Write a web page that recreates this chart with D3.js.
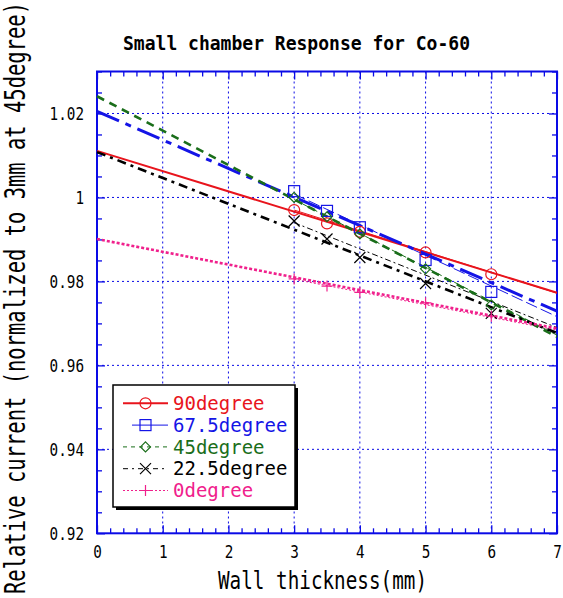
<!DOCTYPE html>
<html><head><meta charset="utf-8">
<script src="https://cdn.jsdelivr.net/npm/d3@7"></script>
<style>html,body{margin:0;padding:0;background:#fff;}</style>
</head><body>
<svg id="c" width="563" height="598"></svg>
<script>
// ---- data ----
const thickness = [3, 3.5, 4, 5, 6];
const seriesNames = ["90degree", "67.5degree", "45degree", "22.5degree", "0degree"];
const v90  = [0.9970, 0.9938, 0.9918, 0.9869, 0.9817];
const v675 = [1.0015, 0.9968, 0.9929, 0.9851, 0.9775];
const v45  = [1.0000, 0.9954, 0.9913, 0.9830, 0.9744];
const v225 = [0.9944, 0.9901, 0.9857, 0.9795, 0.9724];
const v0   = [0.9806, 0.9789, 0.9774, 0.9749, 0.9717];
// fitted lines (value read at both ends)
const fitX = [0, 7];
const fitStart = [1.0111, 1.0205, 1.0241, 1.0108, 0.9901];
const fitEnd   = [0.9773, 0.9729, 0.9668, 0.9677, 0.9688];
const thinX = [3, 7];
const thinStart = [0.9970, 1.0008, 0.9995, 0.9940, 0.9805];
const thinEnd   = [0.9772, 0.9716, 0.9672, 0.9690, 0.9684];
const xTicks = [0, 1, 2, 3, 4, 5, 6, 7];
const yTicks = [0.92, 0.94, 0.96, 0.98, 1.00, 1.02];
const yTickLabels = ["0.92", "0.94", "0.96", "0.98", "1", "1.02"];
const titleText = "Small chamber Response for Co-60";
const xLabel = "Wall thickness(mm)";
const yLabel = "Relative current (normalized to 3mm at 45degree)";

// ---- styles ----
const colors = ["#e8141c", "#1414e6", "#1a6e1a", "#000000", "#f0208c"];
const thickDash = [null, "24,7,6,7", "8,6", "9,5,3,5", "3,2"];
const thickW = [2, 3, 2.6, 2.6, 2.6];
const thinDash = [null, "12,4", "6,4", "6,3,2,3", "2,2"];
const legendDash = [null, null, "4,4", "5,4,2,4", "2,2"];
const legendW = [2, 1, 1, 1, 1];
const markers = ["circle", "square", "diamond", "x", "plus"];
const allValues = [v90, v675, v45, v225, v0];
const MONO = "'DejaVu Sans Mono', monospace";
const AX = "#0a0ae6";

const svg = d3.select("#c");
const x = d3.scaleLinear().domain([0, 7]).range([97, 557]);
const y = d3.scaleLinear().domain([0.92, 1.03]).range([533.3, 71.5]);
const [L, R] = x.range();
const [B, T] = y.range();

function stretched(parent, o) {
  const t = parent.append("text")
    .attr("transform", `translate(${o.x},${o.y}) rotate(${o.rot || 0}) scale(1,${o.sy || 1})`)
    .attr("text-anchor", o.anchor || "start")
    .attr("font-family", MONO)
    .attr("font-size", o.size)
    .attr("font-weight", o.weight || "normal")
    .attr("fill", o.fill || "#000")
    .text(o.text);
  if (o.len) t.attr("textLength", o.len).attr("lengthAdjust", "spacingAndGlyphs");
  return t;
}

// grid
const grid = svg.append("g").attr("stroke", AX).attr("stroke-width", 1).attr("stroke-dasharray", "2,3");
grid.selectAll(".gx").data(xTicks.slice(1, -1)).join("line")
  .attr("x1", d => x(d)).attr("x2", d => x(d)).attr("y1", T).attr("y2", B);
grid.selectAll(".gy").data(yTicks.slice(1)).join("line")
  .attr("x1", L).attr("x2", R).attr("y1", d => y(d)).attr("y2", d => y(d));

// axes (ticks inside on all four sides)
const xMinor = d3.range(0, 7.001, 0.2).filter(v => Math.abs(v - Math.round(v)) > 1e-6);
const yMinor = d3.range(0.92, 1.0301, 0.005).filter(v => Math.abs(v * 50 - Math.round(v * 50)) > 1e-6);
function styleAxis(g) { g.select(".domain").remove(); g.selectAll("line").attr("stroke", AX).attr("stroke-width", 1.3); }
svg.append("g").attr("transform", `translate(0,${B})`).call(d3.axisBottom(x).tickValues(xMinor).tickSize(-5).tickFormat("")).call(styleAxis);
svg.append("g").attr("transform", `translate(0,${T})`).call(d3.axisTop(x).tickValues(xMinor).tickSize(-5).tickFormat("")).call(styleAxis);
svg.append("g").attr("transform", `translate(${L},0)`).call(d3.axisLeft(y).tickValues(yMinor).tickSize(-5).tickFormat("")).call(styleAxis);
svg.append("g").attr("transform", `translate(${R},0)`).call(d3.axisRight(y).tickValues(yMinor).tickSize(-5).tickFormat("")).call(styleAxis);
svg.append("g").attr("transform", `translate(0,${T})`).call(d3.axisTop(x).tickValues(xTicks).tickSize(-8).tickFormat("")).call(styleAxis);
svg.append("g").attr("transform", `translate(${R},0)`).call(d3.axisRight(y).tickValues(yTicks).tickSize(-8).tickFormat("")).call(styleAxis);

const syTick = 1.2;
const xAxisG = svg.append("g").attr("transform", `translate(0,${B})`)
  .call(d3.axisBottom(x).tickValues(xTicks).tickSize(-8).tickFormat(d3.format("d"))).call(styleAxis);
xAxisG.attr("font-family", MONO).attr("font-size", 14.3);
xAxisG.selectAll("text").attr("fill", "#000").attr("dy", 0).attr("y", 24.7 / syTick)
  .attr("transform", `scale(1,${syTick})`);
const yAxisG = svg.append("g").attr("transform", `translate(${L},0)`)
  .call(d3.axisLeft(y).tickValues(yTicks).tickSize(-8).tickFormat((d, i) => yTickLabels[i])).call(styleAxis);
yAxisG.attr("font-family", MONO).attr("font-size", 14.3);
yAxisG.selectAll("text").attr("fill", "#000").attr("dy", 0).attr("x", -13).attr("y", 6 / syTick)
  .attr("transform", `scale(1,${syTick})`);

// frame
svg.append("rect").attr("x", L).attr("y", T).attr("width", R - L).attr("height", B - T)
  .attr("fill", "none").attr("stroke", AX).attr("stroke-width", 2);

// fits
const plot = svg.append("g");
const line = d3.line().x(d => x(d[0])).y(d => y(d[1]));
seriesNames.forEach((name, i) => {
  plot.append("path").datum(thinX.map((xx, k) => [xx, k === 0 ? thinStart[i] : thinEnd[i]]))
    .attr("d", line).attr("fill", "none").attr("stroke", colors[i]).attr("stroke-width", 1)
    .attr("stroke-dasharray", thinDash[i]);
});
seriesNames.forEach((name, i) => {
  plot.append("path").datum(fitX.map((xx, k) => [xx, k === 0 ? fitStart[i] : fitEnd[i]]))
    .attr("d", line).attr("fill", "none").attr("stroke", colors[i]).attr("stroke-width", thickW[i])
    .attr("stroke-dasharray", thickDash[i]);
});

function drawMarker(g, type, cx, cy, color) {
  const s = g.append("g").attr("transform", `translate(${cx},${cy})`)
    .attr("fill", "none").attr("stroke", color).attr("stroke-width", 1.2);
  if (type === "circle") s.append("circle").attr("r", 5.5);
  else if (type === "square") s.append("rect").attr("x", -5.5).attr("y", -5.5).attr("width", 11).attr("height", 11);
  else if (type === "diamond") s.append("path").attr("d", "M0,-5L5,0L0,5L-5,0Z");
  else if (type === "x") s.append("path").attr("d", "M-5.5,-5.5L5.5,5.5M-5.5,5.5L5.5,-5.5");
  else if (type === "plus") s.append("path").attr("d", "M-5.5,0L5.5,0M0,-5.5L0,5.5");
}
allValues.forEach((vals, i) => {
  vals.forEach((v, k) => drawMarker(plot, markers[i], x(thickness[k]), y(v), colors[i]));
});

// legend
const lg = svg.append("g");
const lx = 113, ly = 385, lw = 182, lh = 122;
lg.append("rect").attr("x", lx + 3).attr("y", ly + 3).attr("width", lw).attr("height", lh).attr("fill", "#000");
lg.append("rect").attr("x", lx).attr("y", ly).attr("width", lw).attr("height", lh)
  .attr("fill", "#fff").attr("stroke", "#000").attr("stroke-width", 1.5);
seriesNames.forEach((name, i) => {
  const by = 410 + i * 21.8;
  const cy = by - 6.7;
  lg.append("line").attr("x1", i === 1 ? 132 : 123).attr("x2", 168).attr("y1", cy).attr("y2", cy)
    .attr("stroke", colors[i]).attr("stroke-width", legendW[i]).attr("stroke-dasharray", legendDash[i]);
  drawMarker(lg, markers[i], 145.5, cy, colors[i]);
  stretched(lg, { x: 173, y: by, text: name, size: 19, fill: colors[i] });
});

// titles
stretched(svg, { x: 296.5, y: 49.5, text: titleText, size: 18, weight: "bold", sy: 1.1, anchor: "middle", len: 347 });
stretched(svg, { x: 322.5, y: 589, text: xLabel, size: 19, sy: 1.35, anchor: "middle", len: 209 });
stretched(svg, { x: 25, y: 298, rot: -90, text: yLabel, size: 20.5, sy: 1.35, anchor: "middle", len: 592 });
</script>
</body></html>
